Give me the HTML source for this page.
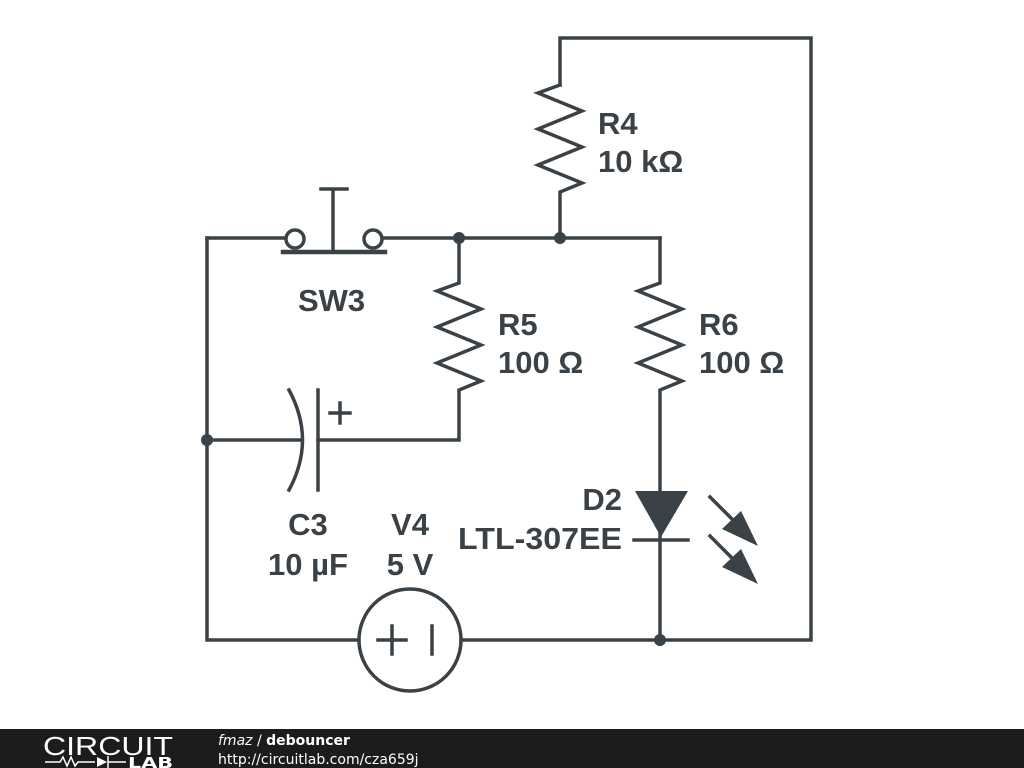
<!DOCTYPE html>
<html><head><meta charset="utf-8"><style>
html,body{margin:0;padding:0;background:#fff;width:1024px;height:768px;overflow:hidden}
svg{display:block}
text{font-family:"Liberation Sans",sans-serif;font-weight:bold;fill:#3b4247}
</style></head><body>
<svg width="1024" height="768" viewBox="0 0 1024 768">
<g stroke="#3b4247" stroke-width="3.5" fill="none" stroke-linecap="square">
<polyline points="560,85 560,38 811,38 811,640 461,640"/>
<polyline points="560,85 538,93 582,111 538,129 582,147 538,165 582,183 560,192 560,238"/>
<line x1="207" y1="238" x2="285" y2="238"/>
<line x1="383" y1="238" x2="660" y2="238"/>
<circle cx="295" cy="239" r="9"/>
<circle cx="373" cy="239" r="9"/>
<line x1="283" y1="252" x2="385" y2="252" stroke-width="4.5"/>
<line x1="333" y1="190" x2="333" y2="252"/>
<line x1="321" y1="189" x2="347" y2="189"/>
<polyline points="207,238 207,640 358,640"/>
<polyline points="459,238 459,283 437,291 481,309 437,327 481,345 437,363 481,381 459,390 459,440 318,440"/>
<polyline points="660,238 660,283 638,291 682,309 638,327 682,345 638,363 682,381 660,390 660,640"/>
<line x1="207" y1="440" x2="302" y2="440"/>
<path d="M289,390 Q316,440 289,490"/>
<line x1="318" y1="390" x2="318" y2="490"/>
<line x1="330" y1="413" x2="350" y2="413"/>
<line x1="340" y1="403" x2="340" y2="423"/>
<line x1="634" y1="540" x2="688" y2="540"/>
<circle cx="410" cy="640" r="51"/>
<line x1="378" y1="640" x2="406" y2="640"/>
<line x1="392" y1="626" x2="392" y2="654"/>
<line x1="432" y1="626" x2="432" y2="654"/>
<line x1="710" y1="497" x2="740" y2="527"/>
<line x1="710" y1="536" x2="740" y2="566"/>
</g>
<g fill="#3b4247">
<polygon points="635,491 688,491 661,537"/>
<polygon points="758,546 722,529 741,511"/>
<polygon points="758,584 722,567 741,549"/>
<circle cx="459" cy="238" r="6"/>
<circle cx="560" cy="238" r="6"/>
<circle cx="207" cy="440" r="6"/>
<circle cx="660" cy="640" r="6"/>
</g>
<g font-size="31">
<text x="598" y="134">R4</text>
<text x="598" y="172">10 kΩ</text>
<text x="298" y="311">SW3</text>
<text x="498" y="335">R5</text>
<text x="498" y="373">100 Ω</text>
<text x="699" y="335">R6</text>
<text x="699" y="373">100 Ω</text>
<text x="622" y="510" text-anchor="end">D2</text>
<text x="622" y="549" text-anchor="end" textLength="164" lengthAdjust="spacingAndGlyphs">LTL-307EE</text>
<text x="308" y="535" text-anchor="middle">C3</text>
<text x="308" y="575" text-anchor="middle">10 µF</text>
<text x="410" y="535" text-anchor="middle">V4</text>
<text x="410" y="575" text-anchor="middle">5 V</text>
</g>
<rect x="0" y="729" width="1024" height="39" fill="#1c1c1c"/>
<text x="43" y="755" font-size="26" style="font-weight:normal;fill:#fff;font-family:'Liberation Sans',sans-serif" textLength="130" lengthAdjust="spacingAndGlyphs">CIRCUIT</text>
<g stroke="#fff" stroke-width="1.5" fill="none">
<polyline points="45,762 60,762 63,757 67,766 71,757 75,766 78,762 95,762"/>
<line x1="108" y1="756" x2="108" y2="768"/>
<line x1="108" y1="762" x2="126" y2="762"/>
</g>
<polygon points="97,757 97,767 107,762" fill="#fff"/>
<text x="128" y="768" font-size="15" style="fill:#fff;font-family:'DejaVu Sans',sans-serif" textLength="45" lengthAdjust="spacingAndGlyphs">LAB</text>
<text x="218" y="745" font-size="14" style="fill:#fff;font-family:'DejaVu Sans',sans-serif"><tspan style="font-style:italic;font-weight:normal">fmaz</tspan><tspan style="font-weight:normal"> / </tspan>debouncer</text>
<text x="218" y="764" font-size="14" style="fill:#fff;font-weight:normal;font-family:'DejaVu Sans',sans-serif">http://circuitlab.com/cza659j</text>
</svg>
</body></html>
